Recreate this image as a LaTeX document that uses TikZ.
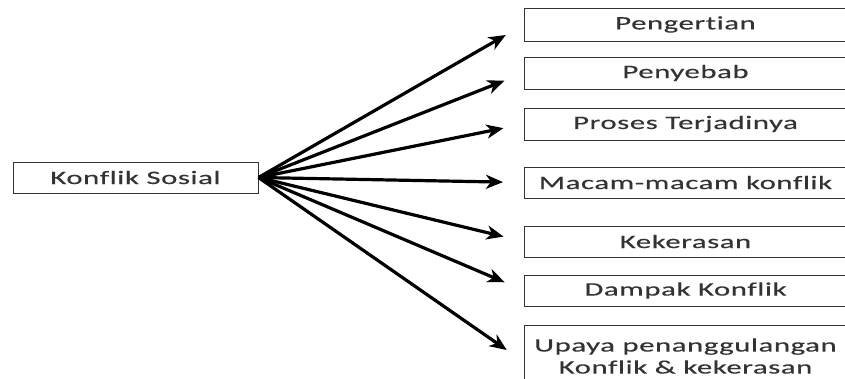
\documentclass[tikz,border=0pt]{standalone}
\usepackage{fontspec}
\setmainfont{Carlito}
\newfontfamily\wfont[FakeStretch=1.62,LetterSpace=3,FakeBold=0.3,Ligatures=NoCommon]{Carlito}
\usetikzlibrary{arrows.meta}
\definecolor{txt}{HTML}{333333}
\tikzset{
  box/.style={draw=black!80, line width=1pt, rectangle, inner sep=0pt, text=txt,
    font=\wfont\fontsize{19}{22}\selectfont, align=center},
  rbox/.style={box, anchor=west, minimum width=322pt, minimum height=32pt},
  arr/.style={line width=3.2pt, -{Stealth[length=17pt,width=14pt,inset=5pt]}, shorten >=21pt}
}
\begin{document}
\begin{tikzpicture}[x=1pt,y=-1pt]
\useasboundingbox (0,0) rectangle (845,378);
\fill[white] (0,0) rectangle (845,378);
\node[box, minimum width=245pt, minimum height=31pt] (ks) at (135.5,177.5) {Konflik Sosial};
\node[rbox, minimum height=33pt] (p1) at (524,24.5) {Pengertian};
\node[rbox] (p2) at (524,73) {Penyebab};
\node[rbox] (p3) at (524,124) {Proses Terjadinya};
\node[rbox, minimum height=31pt] (p4) at (524,182.5) {Macam-macam konflik};
\node[rbox, minimum height=31pt] (p5) at (524,241.5) {Kekerasan};
\node[rbox, minimum height=31pt] (p6) at (524,290.5) {Dampak Konflik};
\node[rbox, minimum height=62pt] (p7) at (524,356) {Upaya penanggulangan\\Konflik \& kekerasan};
\foreach \n in {p1,p2,p3,p4,p5,p6}
  \draw[arr] (ks.east) -- (\n.west);
\draw[arr] (ks.east) -- ([yshift=-6pt]p7.west);
\end{tikzpicture}
\end{document}
